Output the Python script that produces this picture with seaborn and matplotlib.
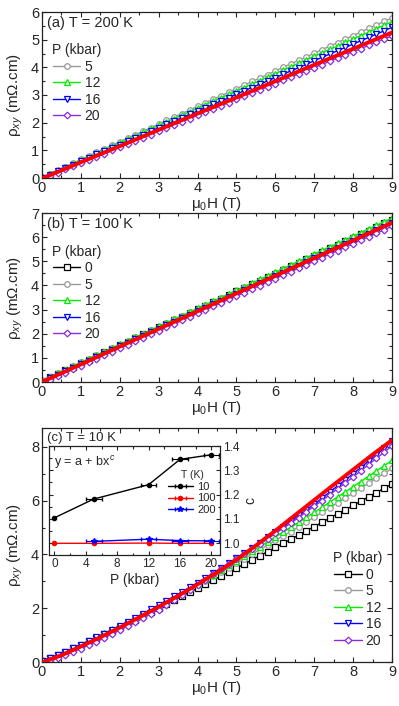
import numpy as np
import pandas as pd
import seaborn as sns
import matplotlib
matplotlib.use('Agg')
import matplotlib.pyplot as plt
from matplotlib.ticker import MultipleLocator

# field grid (T)
H = [0.0, 0.2, 0.4, 0.6, 0.8, 1.0, 1.2, 1.4, 1.6, 1.8, 2.0, 2.2, 2.4, 2.6, 2.8,
     3.0, 3.2, 3.4, 3.6, 3.8, 4.0, 4.2, 4.4, 4.6, 4.8, 5.0, 5.2, 5.4, 5.6, 5.8,
     6.0, 6.2, 6.4, 6.6, 6.8, 7.0, 7.2, 7.4, 7.6, 7.8, 8.0, 8.2, 8.4, 8.6, 8.8, 9.0]

# (a) T = 200 K
a_5 = [0.03, 0.16, 0.29, 0.41, 0.54, 0.67, 0.80, 0.93, 1.05, 1.18, 1.31, 1.44, 1.57, 1.69, 1.82,
       1.95, 2.08, 2.21, 2.33, 2.46, 2.59, 2.72, 2.85, 2.97, 3.10, 3.23, 3.36, 3.49, 3.61, 3.74,
       3.87, 4.00, 4.13, 4.25, 4.38, 4.51, 4.64, 4.77, 4.89, 5.02, 5.15, 5.28, 5.41, 5.53, 5.66, 5.79]
a_12 = [0.02, 0.15, 0.27, 0.40, 0.52, 0.65, 0.77, 0.90, 1.02, 1.15, 1.27, 1.40, 1.52, 1.65, 1.77,
        1.90, 2.02, 2.15, 2.27, 2.40, 2.52, 2.65, 2.77, 2.90, 3.02, 3.15, 3.27, 3.40, 3.52, 3.65,
        3.77, 3.90, 4.02, 4.15, 4.27, 4.40, 4.52, 4.65, 4.77, 4.90, 5.02, 5.15, 5.27, 5.40, 5.52, 5.65]
a_16 = [0.00, 0.12, 0.24, 0.36, 0.48, 0.61, 0.73, 0.85, 0.97, 1.09, 1.21, 1.33, 1.45, 1.57, 1.69,
        1.82, 1.94, 2.06, 2.18, 2.30, 2.42, 2.54, 2.66, 2.78, 2.90, 3.03, 3.15, 3.27, 3.39, 3.51,
        3.63, 3.75, 3.87, 3.99, 4.11, 4.24, 4.36, 4.48, 4.60, 4.72, 4.84, 4.96, 5.08, 5.20, 5.32, 5.45]
a_20 = [-0.04, 0.08, 0.19, 0.31, 0.42, 0.54, 0.65, 0.77, 0.88, 1.00, 1.11, 1.23, 1.34, 1.46, 1.57,
        1.69, 1.80, 1.92, 2.03, 2.15, 2.26, 2.38, 2.49, 2.61, 2.72, 2.84, 2.95, 3.07, 3.18, 3.30,
        3.41, 3.53, 3.64, 3.76, 3.87, 3.99, 4.10, 4.22, 4.33, 4.45, 4.56, 4.68, 4.79, 4.91, 5.02, 5.14]

# (b) T = 100 K
b_0 = [0.04, 0.19, 0.34, 0.49, 0.63, 0.78, 0.93, 1.08, 1.23, 1.38, 1.52, 1.67, 1.82, 1.97, 2.12,
       2.27, 2.41, 2.56, 2.71, 2.86, 3.01, 3.16, 3.30, 3.45, 3.60, 3.75, 3.90, 4.05, 4.20, 4.34,
       4.49, 4.64, 4.79, 4.94, 5.09, 5.23, 5.38, 5.53, 5.68, 5.83, 5.98, 6.12, 6.27, 6.42, 6.57, 6.72]
b_5 = [0.07, 0.22, 0.37, 0.51, 0.66, 0.81, 0.96, 1.11, 1.25, 1.40, 1.55, 1.70, 1.85, 1.99, 2.14,
       2.29, 2.44, 2.59, 2.73, 2.88, 3.03, 3.18, 3.33, 3.47, 3.62, 3.77, 3.92, 4.07, 4.21, 4.36,
       4.51, 4.66, 4.81, 4.95, 5.10, 5.25, 5.40, 5.55, 5.69, 5.84, 5.99, 6.14, 6.29, 6.43, 6.58, 6.73]
b_12 = [0.06, 0.21, 0.36, 0.51, 0.66, 0.81, 0.96, 1.11, 1.26, 1.41, 1.56, 1.71, 1.86, 2.00, 2.15,
        2.30, 2.45, 2.60, 2.75, 2.90, 3.05, 3.20, 3.35, 3.50, 3.65, 3.80, 3.95, 4.10, 4.25, 4.40,
        4.55, 4.70, 4.85, 5.00, 5.15, 5.30, 5.45, 5.60, 5.74, 5.89, 6.04, 6.19, 6.34, 6.49, 6.64, 6.79]
b_16 = [0.02, 0.17, 0.31, 0.46, 0.60, 0.75, 0.89, 1.04, 1.18, 1.33, 1.48, 1.62, 1.77, 1.91, 2.06,
        2.20, 2.35, 2.50, 2.64, 2.79, 2.93, 3.08, 3.22, 3.37, 3.51, 3.66, 3.81, 3.95, 4.10, 4.24,
        4.39, 4.53, 4.68, 4.82, 4.97, 5.12, 5.26, 5.41, 5.55, 5.70, 5.84, 5.99, 6.14, 6.28, 6.43, 6.57]
b_20 = [-0.05, 0.09, 0.24, 0.38, 0.53, 0.67, 0.82, 0.96, 1.11, 1.25, 1.39, 1.54, 1.68, 1.83, 1.97,
        2.12, 2.26, 2.40, 2.55, 2.69, 2.84, 2.98, 3.13, 3.27, 3.42, 3.56, 3.70, 3.85, 3.99, 4.14,
        4.28, 4.43, 4.57, 4.71, 4.86, 5.00, 5.15, 5.29, 5.44, 5.58, 5.73, 5.87, 6.01, 6.16, 6.30, 6.45]

# (c) T = 10 K
c_0 = [0.05, 0.15, 0.26, 0.38, 0.51, 0.64, 0.77, 0.90, 1.03, 1.17, 1.31, 1.45, 1.58, 1.73, 1.87,
       2.01, 2.16, 2.30, 2.45, 2.60, 2.74, 2.89, 3.04, 3.19, 3.34, 3.49, 3.64, 3.80, 3.95, 4.10,
       4.26, 4.41, 4.56, 4.72, 4.88, 5.03, 5.19, 5.35, 5.51, 5.66, 5.82, 5.98, 6.14, 6.30, 6.46, 6.62]
c_5 = [0.05, 0.15, 0.26, 0.38, 0.51, 0.65, 0.78, 0.91, 1.05, 1.19, 1.34, 1.48, 1.62, 1.78, 1.93,
       2.07, 2.23, 2.38, 2.54, 2.70, 2.86, 3.02, 3.18, 3.34, 3.51, 3.67, 3.83, 4.01, 4.18, 4.34,
       4.52, 4.69, 4.85, 5.03, 5.21, 5.38, 5.56, 5.74, 5.92, 6.10, 6.28, 6.46, 6.65, 6.83, 7.01, 7.20]
c_12 = [0.05, 0.15, 0.26, 0.38, 0.52, 0.65, 0.79, 0.92, 1.06, 1.21, 1.35, 1.50, 1.64, 1.80, 1.96,
        2.11, 2.27, 2.43, 2.59, 2.76, 2.91, 3.08, 3.25, 3.42, 3.59, 3.76, 3.93, 4.12, 4.29, 4.47,
        4.65, 4.83, 5.01, 5.19, 5.38, 5.56, 5.75, 5.95, 6.14, 6.32, 6.52, 6.71, 6.91, 7.10, 7.30, 7.50]
c_16 = [0.05, 0.15, 0.26, 0.38, 0.51, 0.65, 0.78, 0.92, 1.05, 1.20, 1.35, 1.50, 1.64, 1.80, 1.96,
        2.11, 2.28, 2.44, 2.61, 2.78, 2.95, 3.13, 3.30, 3.49, 3.67, 3.85, 4.04, 4.24, 4.43, 4.63,
        4.83, 5.03, 5.23, 5.45, 5.66, 5.87, 6.09, 6.32, 6.55, 6.77, 7.00, 7.23, 7.47, 7.71, 7.95, 8.20]
c_20 = [-0.02, 0.06, 0.15, 0.25, 0.37, 0.50, 0.62, 0.75, 0.89, 1.04, 1.18, 1.33, 1.47, 1.63, 1.79,
        1.94, 2.12, 2.30, 2.48, 2.68, 2.87, 3.06, 3.26, 3.46, 3.64, 3.82, 4.00, 4.20, 4.38, 4.57,
        4.78, 4.97, 5.17, 5.37, 5.59, 5.79, 6.00, 6.22, 6.44, 6.65, 6.88, 7.11, 7.34, 7.57, 7.80, 8.04]

# fit lines (red)
H_fit_lin = [0, 1, 2, 3, 4, 5, 6, 7, 8, 9]
fit_a = [-0.02, 0.57, 1.15, 1.74, 2.33, 2.91, 3.50, 4.09, 4.67, 5.26]
fit_b = [0.00, 0.73, 1.47, 2.20, 2.93, 3.67, 4.40, 5.13, 5.86, 6.60]
H_fit_c = [0, 0.5, 1, 1.5, 2, 2.5, 3, 3.5, 4, 4.5, 5, 5.5, 6, 6.5, 7, 7.5, 8, 8.5, 9]
fit_c = [-0.02, 0.25, 0.58, 0.92, 1.28, 1.66, 2.05, 2.46, 2.89, 3.33, 3.80, 4.33, 4.88,
         5.45, 6.02, 6.59, 7.15, 7.71, 8.25]

# inset: exponent c vs pressure
P_10 = [0, 5, 12, 16, 20]
c_10 = [1.105, 1.182, 1.241, 1.345, 1.364]
xerr_10 = [0, 1, 1, 1, 1]
P_100 = [0, 5, 12, 16, 20]
c_100 = [1.000, 1.000, 1.001, 1.000, 1.000]
P_200 = [5, 12, 16, 20]
c_200 = [1.008, 1.017, 1.011, 1.010]
xerr_200 = [1, 1, 1, 1]

styles = {
    '0': ('black', 's'),
    '5': ('#999999', 'o'),
    '12': ('#00ee00', '^'),
    '16': ('#0000ff', 'v'),
    '20': ('#8a2be2', 'D'),
}

sns.set_style('ticks')
plt.rcParams['font.family'] = ['Liberation Sans', 'DejaVu Sans']
plt.rcParams['mathtext.fontset'] = 'custom'
plt.rcParams['mathtext.rm'] = 'Liberation Sans'
plt.rcParams['mathtext.it'] = 'Liberation Sans:italic'
plt.rcParams['axes.edgecolor'] = '#222222'
plt.rcParams['axes.linewidth'] = 0.9

fig = plt.figure(figsize=(3.99, 7.06), dpi=100)
L, W = 42 / 399, 350 / 399
ax_a = fig.add_axes([L, 1 - 178 / 706, W, 166 / 706])
ax_b = fig.add_axes([L, 1 - 382 / 706, W, 169 / 706])
ax_c = fig.add_axes([L, 1 - 662 / 706, W, 234 / 706])


def draw(ax, series, fitx, fity):
    for p, vals in series:
        col, mk = styles[p]
        ms = 3.4 if mk == 'D' else 4.0
        sns.lineplot(x=H, y=vals, ax=ax, color=col, marker=mk, markersize=ms,
                     mfc='white', mec=col, mew=0.9, lw=1.0, label=p, sort=False)
    ax.plot(fitx, fity, color='#ff0000', lw=2.8, zorder=5)


def style(ax, ymax, ymaj, ymin):
    ax.set_xlim(0, 9)
    ax.set_ylim(0, ymax)
    ax.xaxis.set_major_locator(MultipleLocator(1))
    ax.xaxis.set_minor_locator(MultipleLocator(0.5))
    ax.yaxis.set_major_locator(MultipleLocator(ymaj))
    ax.yaxis.set_minor_locator(MultipleLocator(ymin))
    ax.tick_params(which='both', direction='in', top=True, right=True, labelsize=10.5,
                   pad=2, width=0.8)
    ax.tick_params(which='major', length=3.5)
    ax.tick_params(which='minor', length=2)
    ax.set_xlabel('μ$_0$H (T)', fontsize=11, labelpad=0)
    ax.set_ylabel('ρ$_{xy}$ (mΩ.cm)', fontsize=11, labelpad=4)


def leg(ax, **kw):
    ax.legend(title='P (kbar)', frameon=False, fontsize=10, title_fontsize=10,
              handlelength=2.0, handletextpad=0.3, labelspacing=0.18,
              borderpad=0.2, **kw)


draw(ax_a, [('5', a_5), ('12', a_12), ('16', a_16), ('20', a_20)], H_fit_lin, fit_a)
style(ax_a, 6, 1, 0.5)
leg(ax_a, loc='upper left', bbox_to_anchor=(0.0, 0.87))
ax_a.text(0.015, 0.975, '(a) T = 200 K', transform=ax_a.transAxes, va='top', fontsize=10.5)

draw(ax_b, [('0', b_0), ('5', b_5), ('12', b_12), ('16', b_16), ('20', b_20)], H_fit_lin, fit_b)
style(ax_b, 7, 1, 0.5)
leg(ax_b, loc='upper left', bbox_to_anchor=(0.0, 0.87))
ax_b.text(0.015, 0.975, '(b) T = 100 K', transform=ax_b.transAxes, va='top', fontsize=10.5)

draw(ax_c, [('0', c_0), ('5', c_5), ('12', c_12), ('16', c_16), ('20', c_20)], H_fit_c, fit_c)
style(ax_c, 8.7, 2, 1)
leg(ax_c, loc='lower right', bbox_to_anchor=(1.0, 0.02))

# inset
ax_in = fig.add_axes([49 / 399, 1 - 555 / 706, 171 / 399, 109 / 706])
ax_in.errorbar(P_10, c_10, xerr=xerr_10, fmt='-o', color='black', ms=3, lw=1,
               elinewidth=0.8, capsize=1.5, label='10')
ax_in.errorbar(P_100, c_100, xerr=[0] * 5, fmt='-o', color='#ff0000', ms=3, lw=1,
               elinewidth=0.8, capsize=1.5, label='100')
ax_in.errorbar(P_200, c_200, xerr=xerr_200, fmt='-*', color='#0000ff', ms=4, lw=1,
               elinewidth=0.8, capsize=1.5, label='200')
ax_in.set_xlim(-0.7, 21.1)
ax_in.set_ylim(0.952, 1.40)
ax_in.xaxis.set_major_locator(MultipleLocator(4))
ax_in.xaxis.set_minor_locator(MultipleLocator(2))
ax_in.yaxis.set_major_locator(MultipleLocator(0.1))
ax_in.yaxis.set_minor_locator(MultipleLocator(0.05))
ax_in.yaxis.set_major_formatter(matplotlib.ticker.FormatStrFormatter('%.1f'))
ax_in.tick_params(which='both', direction='in', top=True, right=True, left=True,
                  labelleft=False, labelright=True, labelsize=8.5, pad=2, width=0.8)
ax_in.tick_params(which='major', length=3)
ax_in.tick_params(which='minor', length=1.8)
ax_in.yaxis.set_label_position('right')
ax_in.set_ylabel('c', fontsize=10, labelpad=3)
ax_in.set_xlabel('P (kbar)', fontsize=10, labelpad=2)
ax_in.text(0.03, 0.93, 'y = a + bx$^c$', transform=ax_in.transAxes, va='top', fontsize=9)
ax_in.legend(title='T (K)', frameon=False, fontsize=8, title_fontsize=7.5,
             loc='upper right', bbox_to_anchor=(1.02, 0.85), handlelength=2.2,
             handletextpad=0.4, labelspacing=0.15, borderpad=0.2)

# panel (c) label sits between the top spine and the inset frame
fig.text(47 / 399, 1 - 437.5 / 706, '(c) T = 10 K', va='center', fontsize=9.5, zorder=10)

fig.savefig('out.png', dpi=100)
